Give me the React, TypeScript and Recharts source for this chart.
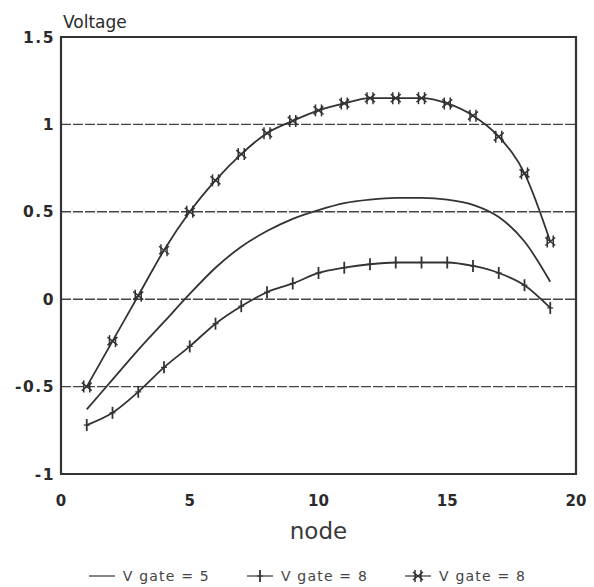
import React from "react";
import {
  LineChart,
  Line,
  XAxis,
  YAxis,
  CartesianGrid,
  Legend,
  ReferenceArea,
} from "recharts";

const nodes = [1, 2, 3, 4, 5, 6, 7, 8, 9, 10, 11, 12, 13, 14, 15, 16, 17, 18, 19];
const vgate5 = [-0.63, -0.46, -0.29, -0.13, 0.03, 0.18, 0.3, 0.39, 0.46, 0.51, 0.55, 0.57, 0.58, 0.58, 0.57, 0.54, 0.47, 0.33, 0.1];
const vgate8Plus = [-0.72, -0.65, -0.53, -0.39, -0.27, -0.14, -0.04, 0.04, 0.09, 0.15, 0.18, 0.2, 0.21, 0.21, 0.21, 0.19, 0.15, 0.08, -0.05];
const vgate8Star = [-0.5, -0.24, 0.02, 0.28, 0.5, 0.68, 0.83, 0.95, 1.02, 1.08, 1.12, 1.15, 1.15, 1.15, 1.12, 1.05, 0.93, 0.72, 0.33];
const xTicks = [0, 5, 10, 15, 20];
const yTicks = [-1, -0.5, 0, 0.5, 1, 1.5];
const seriesNames = ["V gate = 5", "V gate = 8", "V gate = 8"];

const data = nodes.map((n, i) => ({
  node: n,
  a: vgate5[i],
  b: vgate8Plus[i],
  c: vgate8Star[i],
}));

const INK = "#333";
const FONT = "'DejaVu Sans', Arial, sans-serif";

const PlusDot = (props: any) => {
  const { cx, cy } = props;
  if (cx == null || cy == null) return null;
  return (
    <g>
      <line x1={cx} y1={cy - 6} x2={cx} y2={cy + 6} stroke={INK} strokeWidth={1.8} />
      <line x1={cx - 3} y1={cy} x2={cx + 3} y2={cy} stroke={INK} strokeWidth={1.2} />
    </g>
  );
};

const StarDot = (props: any) => {
  const { cx, cy } = props;
  if (cx == null || cy == null) return null;
  return (
    <g stroke={INK} strokeWidth={1.5}>
      <line x1={cx - 3} y1={cy - 6} x2={cx - 3} y2={cy + 6} />
      <line x1={cx + 3} y1={cy - 6} x2={cx + 3} y2={cy + 6} />
      <line x1={cx - 5} y1={cy - 4} x2={cx + 5} y2={cy + 4} />
      <line x1={cx - 5} y1={cy + 4} x2={cx + 5} y2={cy - 4} />
    </g>
  );
};

const LegendContent = () => {
  const items = [
    { name: seriesNames[0], kind: "line" },
    { name: seriesNames[1], kind: "plus" },
    { name: seriesNames[2], kind: "star" },
  ];
  return (
    <div
      style={{
        display: "flex",
        justifyContent: "center",
        gap: 36,
        fontFamily: FONT,
        fontSize: 14,
        letterSpacing: 1.2,
        color: "#444",
        paddingTop: 9,
        paddingLeft: 30,
      }}
    >
      {items.map((it, i) => (
        <div key={i} style={{ display: "flex", alignItems: "center", gap: 7 }}>
          <svg width={28} height={14}>
            <line x1={1} y1={7} x2={27} y2={7} stroke={INK} strokeWidth={1.2} />
            {it.kind === "plus" && <PlusDot cx={14} cy={7} />}
            {it.kind === "star" && <StarDot cx={14} cy={7} />}
          </svg>
          <span>{it.name}</span>
        </div>
      ))}
    </div>
  );
};

export default function App() {
  return (
    <div style={{ position: "relative", width: 578, height: 579, background: "#fff" }}>
      <div
        style={{
          position: "absolute",
          left: 55,
          top: 4,
          fontFamily: FONT,
          fontSize: 17,
          color: "#2a2a2a",
        }}
      >
        Voltage
      </div>
      <LineChart
        width={578}
        height={579}
        data={data}
        margin={{ top: 29, right: 10, left: 0, bottom: 0 }}
      >
        <CartesianGrid vertical={false} stroke="#444" strokeDasharray="10 2" strokeWidth={1.4} />
        <XAxis
          dataKey="node"
          type="number"
          domain={[0, 20]}
          ticks={xTicks}
          tickLine={false}
          axisLine={false}
          height={85}
          tick={{ fontFamily: FONT, fontSize: 15, fontWeight: "bold", fill: "#2a2a2a" }}
          tickMargin={15}
          label={{
            value: "node",
            position: "insideBottom",
            offset: 20,
            style: { fontFamily: FONT, fontSize: 23, fill: "#3a3a3a" },
          }}
        />
        <YAxis
          type="number"
          domain={[-1, 1.5]}
          ticks={yTicks}
          tickLine={false}
          axisLine={false}
          width={53}
          interval={0}
          tick={{ fontFamily: FONT, fontSize: 15.5, fontWeight: "bold", fill: "#2a2a2a", letterSpacing: 1.5 }}
          tickMargin={0}
        />
        <ReferenceArea x1={0} x2={20} y1={-1} y2={1.5} fill="none" stroke={INK} strokeWidth={2.2} ifOverflow="visible" />
        <Line type="monotone" dataKey="a" name={seriesNames[0]} stroke={INK} strokeWidth={1.8} dot={false} isAnimationActive={false} />
        <Line type="monotone" dataKey="b" name={seriesNames[1]} stroke={INK} strokeWidth={1.8} dot={<PlusDot />} isAnimationActive={false} />
        <Line type="monotone" dataKey="c" name={seriesNames[2]} stroke={INK} strokeWidth={1.8} dot={<StarDot />} isAnimationActive={false} />
        <Legend verticalAlign="bottom" height={28} content={<LegendContent />} />
      </LineChart>
    </div>
  );
}
